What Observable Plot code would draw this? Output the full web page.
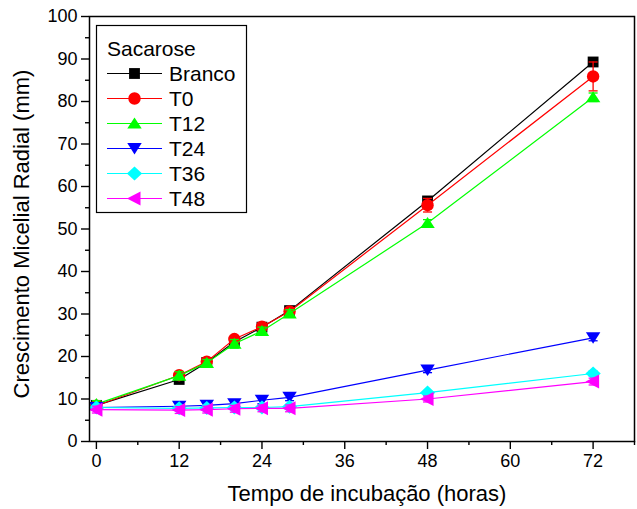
<!DOCTYPE html>
<html><head><meta charset="utf-8">
<script src="https://cdn.jsdelivr.net/npm/d3@7"></script>
<script src="https://cdn.jsdelivr.net/npm/@observablehq/plot@0.6"></script>
<style>body{margin:0;background:#fff} #chart svg{display:block}</style>
</head><body><div id="chart"></div>
<script>
// ---- data ----
const hours = [0, 12, 16, 20, 24, 28, 48, 72];
const seriesNames = ["Branco", "T0", "T12", "T24", "T36", "T48"];
const seriesColors = ["#000000", "#ff0000", "#00ff00", "#0000ff", "#00ffff", "#ff00ff"];
const branco = [8.5, 14.6, 18.6, 23.4, 26.9, 30.8, 56.6, 89.3];
const t0     = [8.4, 15.6, 18.8, 24.1, 27.0, 30.6, 55.6, 85.9];
const t12    = [8.8, 15.5, 18.5, 23.0, 26.0, 30.1, 51.4, 81.0];
const t24    = [8.0, 8.3, 8.5, 8.9, 9.7, 10.4, 16.8, 24.4];
const t36    = [8.0, 7.8, 7.9, 8.0, 8.0, 8.2, 11.5, 16.0];
const t48    = [7.5, 7.4, 7.5, 7.7, 7.8, 7.8, 10.0, 14.1];
const errBranco = [0.4, 0.5, 0.4, 0.5, 0.5, 0.4, 0.6, 0.6];
const errT0     = [0.5, 0.6, 0.5, 0.8, 0.6, 0.5, 1.6, 3.4];
const errT12    = [0.8, 0.9, 0.8, 1.0, 0.9, 0.9, 0.8, 1.0];
const errT24    = [0.5, 0.8, 0.8, 0.8, 0.8, 0.8, 0.6, 0.7];
const errT36    = [0.5, 0.4, 0.4, 0.4, 0.4, 0.4, 0.5, 0.6];
const errT48    = [0.8, 0.8, 0.8, 0.8, 0.8, 0.8, 0.7, 0.8];
const yMajorTicks = [0, 10, 20, 30, 40, 50, 60, 70, 80, 90, 100];
const yMinorTicks = [5, 15, 25, 35, 45, 55, 65, 75, 85, 95];
const xMajorTicks = [0, 12, 24, 36, 48, 60, 72];
const xMinorTicks = [6, 18, 30, 42, 54, 66, 78];
const xLabel = "Tempo de incubação (horas)";
const yLabel = "Crescimento Micelial Radial (mm)";
const legendTitle = "Sacarose";

const values = [branco, t0, t12, t24, t36, t48];
const errors = [errBranco, errT0, errT12, errT24, errT36, errT48];

// ---- symbols ----
const K = s => Math.sqrt(s) / 10.6;
const symSquare = {draw(c, s){ const h = 5.4 * K(s); c.rect(-h, -h, 2*h, 2*h); }};
const symCircle = {draw(c, s){ const r = 6.2 * K(s); c.moveTo(r, 0); c.arc(0, 0, r, 0, 2*Math.PI); }};
const symTriUp = {draw(c, s){ const k = K(s); c.moveTo(0, -6*k); c.lineTo(7.2*k, 5*k); c.lineTo(-7.2*k, 5*k); c.closePath(); }};
const symTriDown = {draw(c, s){ const k = K(s); c.moveTo(0, 6*k); c.lineTo(7.2*k, -5.5*k); c.lineTo(-7.2*k, -5.5*k); c.closePath(); }};
const symDiamond = {draw(c, s){ const k = K(s); c.moveTo(0, -7*k); c.lineTo(7.6*k, 0); c.lineTo(0, 7*k); c.lineTo(-7.6*k, 0); c.closePath(); }};
const symTriLeft = {draw(c, s){ const k = K(s); c.moveTo(-7.5*k, 0); c.lineTo(6*k, -7*k); c.lineTo(6*k, 7*k); c.closePath(); }};
const symCap = {draw(c, s){ const k = K(s); c.moveTo(-4.5*k, 0); c.lineTo(4.5*k, 0); }};
const symbols = [symSquare, symCircle, symTriUp, symTriDown, symDiamond, symTriLeft];

// ---- marks ----
const marks = [];
seriesNames.forEach((name, i) => {
  const rows = hours.map((h, j) => ({h, v: values[i][j], e: errors[i][j]}));
  const col = seriesColors[i];
  marks.push(Plot.line(rows, {x: "h", y: "v", stroke: col, strokeWidth: 1.2}));
  marks.push(Plot.ruleX(rows, {x: "h", y1: d => d.v - d.e, y2: d => d.v + d.e, stroke: col, strokeWidth: 1.3}));
  marks.push(Plot.dot(rows, {x: "h", y: d => d.v - d.e, symbol: symCap, r: 6, fill: "none", stroke: col, strokeWidth: 1.3}));
  marks.push(Plot.dot(rows, {x: "h", y: d => d.v + d.e, symbol: symCap, r: 6, fill: "none", stroke: col, strokeWidth: 1.3}));
  marks.push(Plot.dot(rows, {x: "h", y: "v", symbol: symbols[i], r: 6, fill: col, stroke: "none"}));
});

const chart = Plot.plot({
  width: 637, height: 509,
  marginLeft: 89, marginRight: 3, marginTop: 16, marginBottom: 68,
  style: {fontFamily: "'Liberation Sans', Arial, sans-serif", fontSize: "18px", color: "#000", background: "#fff"},
  x: {domain: [-1, 78]},
  y: {domain: [0, 100]},
  marks: [
    Plot.axisY({ticks: yMajorTicks, tickSize: 8, tickPadding: 4, strokeWidth: 1.4, label: null, fontSize: 18}),
    Plot.axisY({ticks: yMinorTicks, tickSize: 4, tickFormat: () => "", strokeWidth: 1.4, label: null}),
    Plot.axisX({ticks: xMajorTicks, tickSize: 8, tickPadding: 5, strokeWidth: 1.4, label: null, fontSize: 18}),
    Plot.axisX({ticks: xMinorTicks, tickSize: 4, tickFormat: () => "", strokeWidth: 1.4, label: null}),
    ...marks,
    Plot.frame({stroke: "#000", strokeWidth: 1.5})
  ]
});

// ---- axis titles & legend ----
const svg = d3.select(chart);
const FONT = "'Liberation Sans', Arial, sans-serif";
svg.append("text").attr("x", 367).attr("y", 501).attr("text-anchor", "middle")
  .attr("font-family", FONT).attr("font-size", 22).attr("fill", "#000").text(xLabel);
svg.append("text").attr("transform", "translate(29,234) rotate(-90)").attr("text-anchor", "middle")
  .attr("font-family", FONT).attr("font-size", 22).attr("fill", "#000").text(yLabel);

const lg = svg.append("g").attr("text-anchor", "start");
lg.append("rect").attr("x", 96.5).attr("y", 25.5).attr("width", 150).attr("height", 187)
  .attr("fill", "#fff").attr("stroke", "#000").attr("stroke-width", 1.2);
lg.append("text").attr("x", 107).attr("y", 56).attr("text-anchor", "start").attr("font-family", FONT).attr("font-size", 21)
  .attr("fill", "#000").text(legendTitle);
seriesNames.forEach((name, i) => {
  const cy = 73.5 + 25 * i;
  lg.append("line").attr("x1", 107).attr("x2", 162).attr("y1", cy).attr("y2", cy)
    .attr("stroke", seriesColors[i]).attr("stroke-width", 1.2);
  lg.append("path").attr("transform", `translate(134.5,${cy})`)
    .attr("d", d3.symbol(symbols[i], 36 * Math.PI)()).attr("fill", seriesColors[i]);
  lg.append("text").attr("x", 169).attr("y", cy + 7.5).attr("text-anchor", "start").attr("font-family", FONT).attr("font-size", 21)
    .attr("fill", "#000").text(name);
});

document.getElementById("chart").appendChild(chart);
</script>
</body></html>
